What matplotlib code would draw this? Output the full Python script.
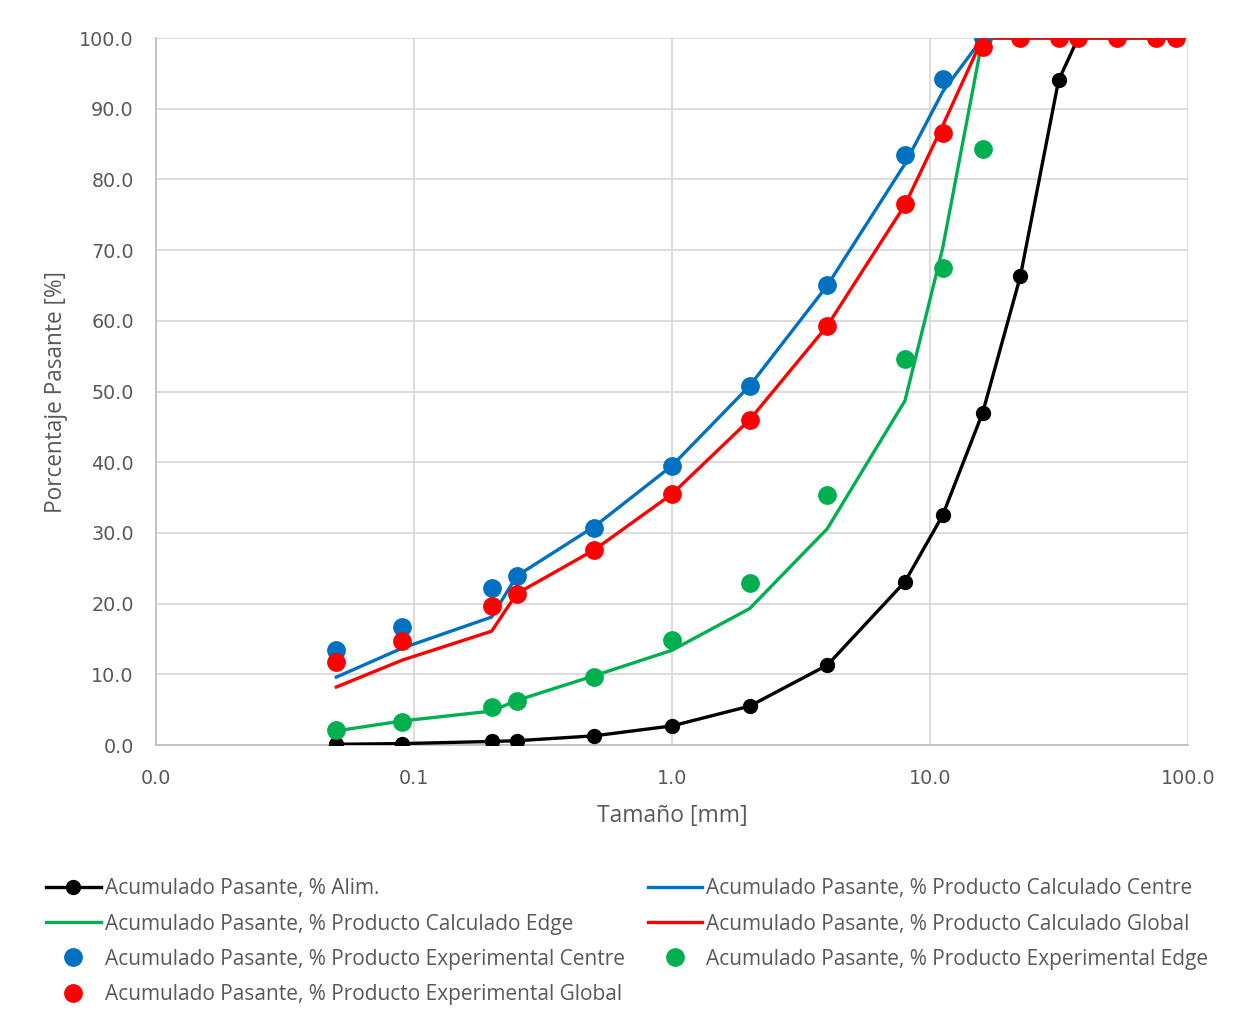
import matplotlib

matplotlib.use("Agg")
import matplotlib.pyplot as plt
from matplotlib.ticker import FixedLocator, FixedFormatter, NullLocator

# Sieve sizes in mm (log scale on x).
TAMANO = [0.05, 0.09, 0.2, 0.25, 0.5, 1.0, 2.0, 4.0, 8.0, 11.2, 16.0, 22.4, 31.5, 37.5, 53.0, 75.0, 90.0]

# Cumulative passing, % for each stream.
ALIM = [0.1, 0.2, 0.5, 0.6, 1.3, 2.7, 5.5, 11.3, 23.1, 32.5, 47.0, 66.3, 94.0, 100.0, 100.0, 100.0, 100.0]
CALC_CENTRE = [9.6, 13.7, 18.1, 23.9, 30.9, 39.5, 50.8, 65.0, 82.2, 92.4, 100.0, 100.0, 100.0, 100.0, 100.0, 100.0, 100.0]
CALC_EDGE = [2.0, 3.4, 4.8, 6.3, 9.8, 13.4, 19.3, 30.6, 48.7, 70.3, 100.0, 100.0, 100.0, 100.0, 100.0, 100.0, 100.0]
CALC_GLOBAL = [8.2, 12.0, 16.1, 21.4, 27.6, 35.5, 46.0, 59.3, 76.4, 87.6, 100.0, 100.0, 100.0, 100.0, 100.0, 100.0, 100.0]

# Experimental points stop where the product reaches 100 %.
EXP_CENTRE = [13.4, 16.7, 22.2, 23.9, 30.7, 39.5, 50.8, 65.1, 83.5, 94.2, 100.0]
EXP_EDGE = [2.1, 3.3, 5.4, 6.2, 9.6, 14.9, 22.9, 35.4, 54.6, 67.5, 84.3]
EXP_GLOBAL = [11.7, 14.7, 19.7, 21.4, 27.6, 35.5, 46.0, 59.3, 76.5, 86.6, 98.7, 100.0, 100.0, 100.0, 100.0, 100.0, 100.0]

X_TICKS = [0.01, 0.1, 1.0, 10.0, 100.0]
X_TICK_LABELS = ["0.0", "0.1", "1.0", "10.0", "100.0"]
Y_TICKS = [0, 10, 20, 30, 40, 50, 60, 70, 80, 90, 100]

NEGRO = "#000000"
AZUL = "#0070C0"
VERDE = "#00B050"
ROJO = "#FF0000"
TEXTO = "#595959"
GRILLA = "#D9D9D9"

LABEL_FONT = "Open Sans"

fig = plt.figure(figsize=(12.52, 10.22), dpi=100)
ax = fig.add_axes([156 / 1252, 1 - 745 / 1022, (1188 - 156) / 1252, (745 - 38) / 1022])

pre = "Acumulado Pasante, % "
h_alim, = ax.plot(TAMANO, ALIM, color=NEGRO, lw=2.4, marker="o", ms=10, label=pre + "Alim.", zorder=3)
h_cc, = ax.plot(TAMANO, CALC_CENTRE, color=AZUL, lw=2.4, label=pre + "Producto Calculado Centre", zorder=3)
h_ce, = ax.plot(TAMANO, CALC_EDGE, color=VERDE, lw=2.4, label=pre + "Producto Calculado Edge", zorder=3)
h_cg, = ax.plot(TAMANO, CALC_GLOBAL, color=ROJO, lw=2.4, label=pre + "Producto Calculado Global", zorder=3)
h_ec, = ax.plot(TAMANO[:len(EXP_CENTRE)], EXP_CENTRE, ls="none", marker="o", ms=12.5, color=AZUL,
                label=pre + "Producto Experimental Centre", zorder=4)
h_ee, = ax.plot(TAMANO[:len(EXP_EDGE)], EXP_EDGE, ls="none", marker="o", ms=12.5, color=VERDE,
                label=pre + "Producto Experimental Edge", zorder=4)
h_eg, = ax.plot(TAMANO[:len(EXP_GLOBAL)], EXP_GLOBAL, ls="none", marker="o", ms=12.5, color=ROJO,
                label=pre + "Producto Experimental Global", zorder=4)

ax.set_xscale("log")
ax.set_xlim(0.01, 100)
ax.set_ylim(0, 100)
ax.xaxis.set_major_locator(FixedLocator(X_TICKS))
ax.xaxis.set_major_formatter(FixedFormatter(X_TICK_LABELS))
ax.xaxis.set_minor_locator(NullLocator())
ax.set_yticks(Y_TICKS)
ax.set_yticklabels([f"{v:.1f}" for v in Y_TICKS])

ax.grid(True, color=GRILLA, lw=1.3, zorder=0)
ax.set_axisbelow(True)
for side in ("top", "right"):
    ax.spines[side].set_visible(False)
for side in ("left", "bottom"):
    ax.spines[side].set_color("#BFBFBF")
    ax.spines[side].set_linewidth(1.3)
ax.tick_params(length=0, labelsize=13.8, labelcolor=TEXTO)
ax.tick_params(axis="x", pad=17)
ax.tick_params(axis="y", pad=16)

ax.set_xlabel("Tamaño [mm]", fontsize=16.5, color=TEXTO, family=LABEL_FONT, labelpad=12)
ax.set_ylabel("Porcentaje Pasante [%]", fontsize=16.3, color=TEXTO, family=LABEL_FONT, labelpad=8)

# Two columns, filled column by column.
handles = [h_alim, h_ce, h_ec, h_eg, h_cc, h_cg, h_ee]
leg = fig.legend(handles=handles, labels=[h.get_label() for h in handles], ncol=2,
                 loc="upper left", bbox_to_anchor=(38 / 1252, 1 - 870 / 1022),
                 frameon=False, handlelength=2.6, handletextpad=0.2, columnspacing=1.1,
                 labelspacing=0.68, prop={"family": LABEL_FONT, "size": 15}, borderaxespad=0)
for t in leg.get_texts():
    t.set_color(TEXTO)

fig.savefig("out.png", dpi=100)
